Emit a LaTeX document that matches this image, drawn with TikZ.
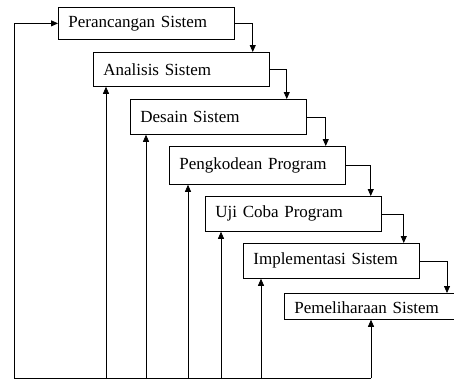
\documentclass[tikz,border=0pt]{standalone}
\usepackage{fontspec}
\setmainfont{Liberation Serif}
\usetikzlibrary{arrows.meta}

\begin{document}
\begin{tikzpicture}[x=1pt,y=-1pt,
    tahap/.style={draw, line width=0.75pt, anchor=north west, text width=156pt,
        inner xsep=10pt, align=left, font=\fontsize{17}{20}\selectfont},
    alur/.style={line width=0.75pt, -{Triangle[length=7pt,width=6pt]}}]
    \useasboundingbox (0,0) rectangle (454,380);
    \node[tahap, minimum height=32pt] (t1) at (58,7) {Perancangan Sistem};
    \node[tahap, minimum height=34pt] (t2) at (93,52) {Analisis Sistem};
    \node[tahap, minimum height=35pt] (t3) at (130,99) {Desain Sistem};
    \node[tahap, minimum height=38pt] (t4) at (169,146) {Pengkodean Program};
    \node[tahap, minimum height=35pt] (t5) at (205,196) {Uji Coba Program};
    \node[tahap, minimum height=35pt] (t6) at (243,243) {Implementasi Sistem};
    \node[tahap, minimum height=26pt, text width=170pt, text height=15pt, text depth=0pt]
        (t7) at (284,293) {Pemeliharaan Sistem};
    % turun ke tahap berikutnya
    \foreach \a/\b/\s in {t1/t2/17, t2/t3/20, t3/t4/20, t4/t5/11, t5/t6/16}
        \draw[alur] (\a.east) -| ([xshift=-\s pt]\b.north east);
    \draw[alur] (t6.east) -| ([xshift=163pt]t7.north west);
    % umpan balik
    \coordinate (dasar) at (14,378);
    \draw[line width=0.75pt] (dasar) -- ([xshift=87pt]t7.south west |- dasar);
    \draw[alur] (dasar) |- (t1.west);
    \foreach \n/\s in {t2/13, t3/16, t4/19, t5/16, t6/18, t7/87}
        \draw[alur] ([xshift=\s pt]\n.south west |- dasar) -- ([xshift=\s pt]\n.south west);
\end{tikzpicture}
\end{document}
